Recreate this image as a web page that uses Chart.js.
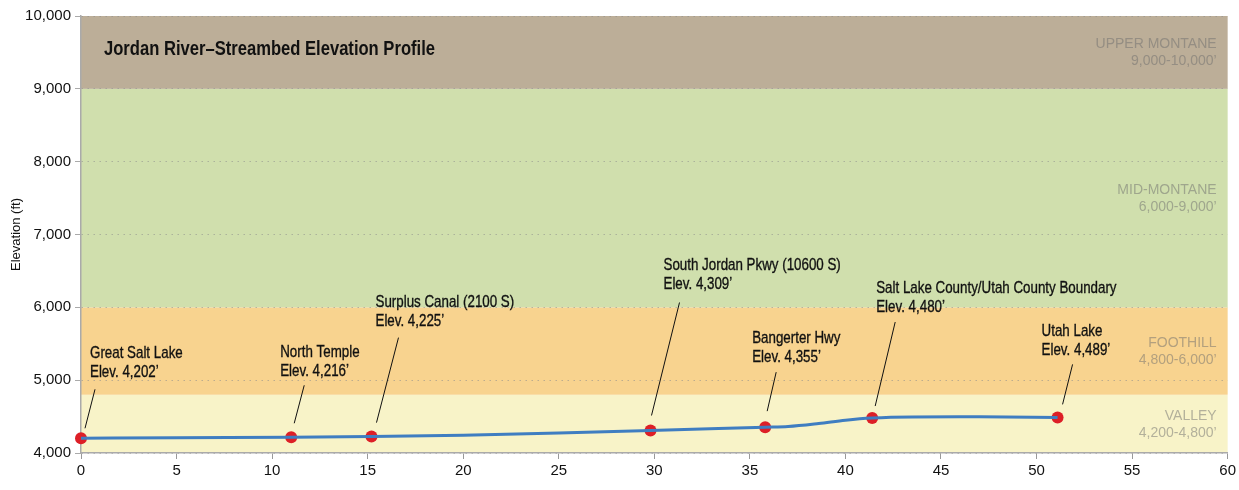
<!DOCTYPE html>
<html>
<head>
<meta charset="utf-8">
<title>Jordan River Elevation Profile</title>
<script src="https://cdn.jsdelivr.net/npm/chart.js@4/dist/chart.umd.min.js"></script>
<style>
  html, body { margin: 0; padding: 0; background: #fff; }
  #wrap { width: 1239px; height: 490px; }
</style>
</head>
<body>
<div id="wrap"><canvas id="perfil" width="1239" height="490"></canvas></div>
<script>
// Perfil do leito do rio (milhas a partir do Great Salt Lake, elevação em pés)
const profileMiles = [0, 5, 11, 15.2, 20, 25, 29.8, 35.8, 37, 38.6, 40, 41.4, 43.5, 47, 51.1];
const profileElev  = [4202, 4210, 4216, 4225, 4245, 4275, 4309, 4355, 4364, 4405, 4450, 4480, 4495, 4497, 4489];

// Pontos de referência ao longo do rio
const stationNames = ['Great Salt Lake', 'North Temple', 'Surplus Canal (2100 S)', 'South Jordan Pkwy (10600 S)',
                      'Bangerter Hwy', 'Salt Lake County/Utah County Boundary', 'Utah Lake'];
const stationMiles = [0, 11, 15.2, 29.8, 35.8, 41.4, 51.1];
const stationElev  = [4202, 4216, 4225, 4309, 4355, 4480, 4489];

// Faixas de vegetação
const bandNames = ['VALLEY', 'FOOTHILL', 'MID-MONTANE', 'UPPER MONTANE'];
const bandLow   = [4200, 4800, 6000, 9000];
const bandHigh  = [4800, 6000, 9000, 10000];

// Eixos
const xTicks = [0, 5, 10, 15, 20, 25, 30, 35, 40, 45, 50, 55, 60];
const yTicks = [4000, 5000, 6000, 7000, 8000, 9000, 10000];

const bandColors = ['#f8f3c8', '#f8d38f', '#d0dfad', '#bcae98'];
const sans = '"Liberation Sans", Arial, sans-serif';

// deslocamentos (px) do texto e da linha de chamada em relação a cada ponto
const calloutOffsets = [
  { tx: 9,   ty: -85,  x1: 4, y1: -10, x2: 14, y2: -49 },
  { tx: -11, ty: -85,  x1: 3, y1: -14, x2: 13, y2: -52 },
  { tx: 4,   ty: -134, x1: 5, y1: -14, x2: 27, y2: -99 },
  { tx: 13,  ty: -165, x1: 1, y1: -15, x2: 29, y2: -128 },
  { tx: -13, ty: -89,  x1: 2, y1: -16, x2: 11, y2: -55 },
  { tx: 4,   ty: -130, x1: 3, y1: -12, x2: 23, y2: -96 },
  { tx: -16, ty: -86,  x1: 5, y1: -13, x2: 15, y2: -53 }
];

const fmt = v => v.toLocaleString('en-US');

// texto "condensado": escala horizontal sobre a fonte normal
function narrowText(ctx, text, x, y, squeeze, stroke) {
  ctx.save();
  ctx.translate(x, y);
  ctx.scale(squeeze, 1);
  ctx.fillText(text, 0, 0);
  if (stroke) {
    ctx.lineWidth = stroke;
    ctx.strokeStyle = ctx.fillStyle;
    ctx.strokeText(text, 0, 0);
  }
  ctx.restore();
}

// Fundo com as faixas de elevação e seus rótulos
const bandsPlugin = {
  id: 'bands',
  beforeDraw(chart) {
    const { ctx, chartArea, scales: { y } } = chart;
    ctx.save();
    bandNames.forEach((name, i) => {
      const low = i === 0 ? y.min : bandLow[i];
      const top = y.getPixelForValue(bandHigh[i]);
      const bottom = y.getPixelForValue(low);
      ctx.fillStyle = bandColors[i];
      ctx.fillRect(chartArea.left, top, chartArea.right - chartArea.left, bottom - top);
    });
    ctx.restore();
  },
  afterDatasetsDraw(chart) {
    const { ctx, chartArea, scales: { y } } = chart;
    ctx.save();
    ctx.font = '14px ' + sans;
    ctx.fillStyle = 'rgba(110,110,110,0.5)';
    ctx.textAlign = 'right';
    ctx.textBaseline = 'middle';
    bandNames.forEach((name, i) => {
      const low = i === 0 ? y.min : bandLow[i];
      const mid = (y.getPixelForValue(bandHigh[i]) + y.getPixelForValue(low)) / 2;
      const x = chartArea.right - 11;
      ctx.fillText(name, x, mid - 8);
      ctx.fillText(fmt(bandLow[i]) + '-' + fmt(bandHigh[i]) + '’', x, mid + 9);
    });

    // título
    ctx.font = 'bold 21px ' + sans;
    ctx.fillStyle = '#111';
    ctx.textAlign = 'left';
    narrowText(ctx, 'Jordan River–Streambed Elevation Profile', chartArea.left + 23, chartArea.top + 33, 0.79);
    ctx.restore();
  }
};

// Rótulos e linhas de chamada dos pontos de referência
const calloutPlugin = {
  id: 'callouts',
  afterDatasetsDraw(chart) {
    const { ctx } = chart;
    const meta = chart.getDatasetMeta(1);
    ctx.save();
    ctx.strokeStyle = '#111';
    ctx.lineWidth = 1;
    ctx.fillStyle = '#111';
    ctx.font = '17px ' + sans;
    ctx.textAlign = 'left';
    ctx.textBaseline = 'middle';
    meta.data.forEach((pt, i) => {
      const o = calloutOffsets[i];
      ctx.beginPath();
      ctx.moveTo(pt.x + o.x1, pt.y + o.y1);
      ctx.lineTo(pt.x + o.x2, pt.y + o.y2);
      ctx.stroke();
      narrowText(ctx, stationNames[i], pt.x + o.tx, pt.y + o.ty, 0.785, 0.35);
      narrowText(ctx, 'Elev. ' + fmt(stationElev[i]) + '’', pt.x + o.tx, pt.y + o.ty + 19, 0.785, 0.35);
    });
    ctx.restore();
  }
};

const ctx = document.getElementById('perfil').getContext('2d');
new Chart(ctx, {
  type: 'line',
  data: {
    datasets: [
      {
        label: 'Streambed',
        data: profileMiles.map((m, i) => ({ x: m, y: profileElev[i] })),
        borderColor: '#3f7dc1',
        borderWidth: 3,
        pointRadius: 0,
        cubicInterpolationMode: 'monotone',
        clip: false
      },
      {
        label: 'Stations',
        data: stationMiles.map((m, i) => ({ x: m, y: stationElev[i] })),
        showLine: false,
        pointRadius: 6,
        pointBackgroundColor: '#dd1f27',
        pointBorderColor: '#dd1f27',
        pointBorderWidth: 0,
        clip: false
      }
    ]
  },
  options: {
    responsive: false,
    animation: false,
    layout: { padding: { top: 16, right: 9, left: 0, bottom: 0 } },
    plugins: { legend: { display: false }, tooltip: { enabled: false } },
    scales: {
      x: {
        type: 'linear',
        min: 0,
        max: 60,
        afterBuildTicks: axis => { axis.ticks = xTicks.map(v => ({ value: v })); },
        afterFit: axis => { axis.height = 37; },
        grid: { drawOnChartArea: false, drawTicks: true, tickLength: 6, tickColor: '#999' },
        border: { color: '#aaa', width: 1.5 },
        ticks: { color: '#111', font: { size: 15, family: sans }, padding: 3 }
      },
      y: {
        min: 4000,
        max: 10000,
        afterBuildTicks: axis => { axis.ticks = yTicks.map(v => ({ value: v })); },
        afterFit: axis => { axis.width = 81; },
        grid: { color: 'rgba(140,140,140,0.55)', lineWidth: 1, tickLength: 6, tickColor: '#aaa', tickBorderDash: [] },
        border: { color: '#aaa', width: 1.5, dash: [1.5, 4.5] },
        ticks: { color: '#111', font: { size: 15, family: sans }, padding: 4, callback: v => fmt(v) },
        title: { display: true, text: 'Elevation (ft)', color: '#111', font: { size: 13, family: sans }, padding: { top: 9, bottom: 0 } }
      }
    }
  },
  plugins: [bandsPlugin, calloutPlugin]
});
</script>
</body>
</html>
